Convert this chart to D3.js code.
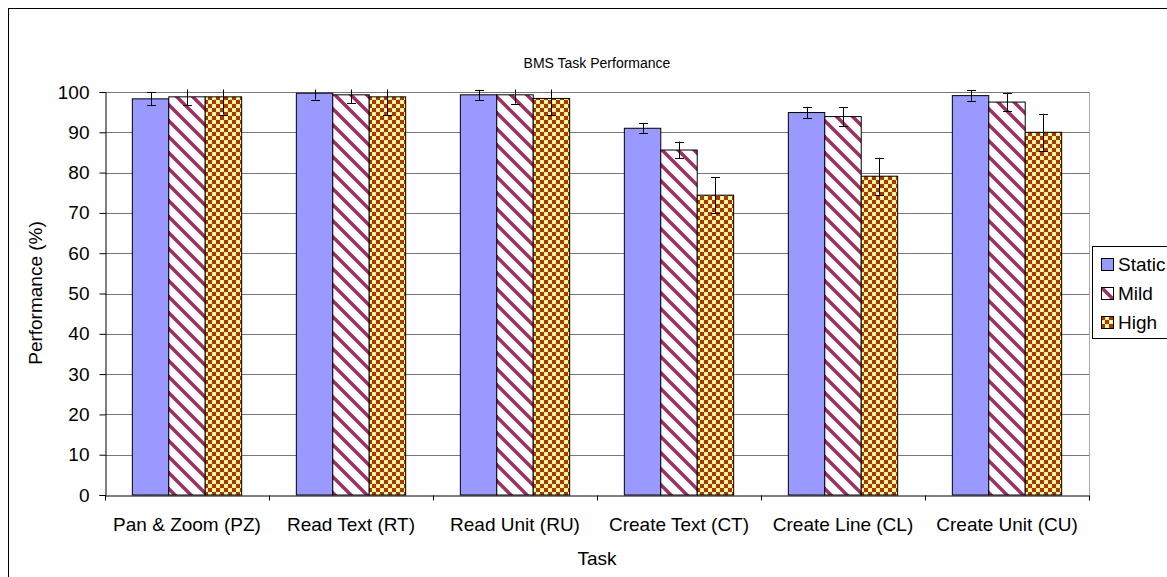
<!DOCTYPE html>
<html>
<head>
	<title>BMS Task Performance</title>
<style>
body {
  margin: 0;
  background: #fff;
}
svg text {
  font-family: "Liberation Sans", Arial, sans-serif;
  fill: #000;
}
</style>
</head>
  <body>
    <svg id="barChart"></svg>
    <script src="https://cdnjs.cloudflare.com/ajax/libs/d3/7.8.5/d3.min.js"></script>
    <script>
      // data
      var tasks = ['Pan & Zoom (PZ)', 'Read Text (RT)', 'Read Unit (RU)', 'Create Text (CT)', 'Create Line (CL)', 'Create Unit (CU)'];
      var seriesNames = ['Static', 'Mild', 'High'];
      var staticVals = [98.3, 99.7, 99.3, 91.0, 94.9, 99.1];
      var mildVals = [98.8, 99.3, 99.3, 85.6, 93.9, 97.5];
      var highVals = [98.8, 98.8, 98.4, 74.4, 79.1, 90.0];
      var staticErr = [1.6, 1.6, 1.3, 1.2, 1.4, 1.4];
      var mildErr = [2.1, 2.0, 2.2, 2.1, 2.3, 2.2];
      var highErr = [4.4, 4.4, 4.2, 4.4, 4.6, 4.6];
      var yTicks = [0, 10, 20, 30, 40, 50, 60, 70, 80, 90, 100];

      var width = 1167;
      var height = 577;
      // plot area edges (note: "top" is reserved on window)
      var pLeft = 105, pRight = 1089, pTop = 92, pBottom = 495;
      var labelFont = '19px';

      var allVals = [staticVals, mildVals, highVals];
      var allErr = [staticErr, mildErr, highErr];
      var data = [];
      tasks.forEach(function(t, i) {
        seriesNames.forEach(function(s, j) {
          data.push({ task: t, series: s, value: allVals[j][i], err: allErr[j][i] });
        });
      });

      var chart = d3.select('#barChart')
        .attr('width', width)
        .attr('height', height);

      var defs = chart.append('defs');

      var mild = defs.append('pattern')
        .attr('id', 'mildFill')
        .attr('patternUnits', 'userSpaceOnUse')
        .attr('width', 16)
        .attr('height', 16);
      mild.append('rect').attr('width', 16).attr('height', 16).attr('fill', '#fff');
      mild.append('path')
        .attr('d', 'M-4,-4 L20,20 M-4,12 L4,20 M12,-4 L20,4')
        .attr('stroke', '#993366')
        .attr('stroke-width', 3.6);

      var high = defs.append('pattern')
        .attr('id', 'highFill')
        .attr('patternUnits', 'userSpaceOnUse')
        .attr('width', 8)
        .attr('height', 8);
      high.append('rect').attr('width', 8).attr('height', 8).attr('fill', '#ffee88');
      high.append('rect').attr('x', 1).attr('y', 5).attr('width', 2).attr('height', 2).attr('fill', '#ffffd8');
      high.append('rect').attr('x', 5).attr('y', 1).attr('width', 2).attr('height', 2).attr('fill', '#ffffd8');
      high.append('rect').attr('x', 0).attr('y', 0).attr('width', 4).attr('height', 4).attr('fill', '#a33a00');
      high.append('rect').attr('x', 4).attr('y', 4).attr('width', 4).attr('height', 4).attr('fill', '#a33a00');

      defs.append('clipPath')
        .attr('id', 'plotClip')
        .append('rect')
        .attr('x', pLeft)
        .attr('y', pTop - 2.5)
        .attr('width', pRight - pLeft)
        .attr('height', pBottom - pTop + 2.5);

      var fills = { Static: '#9999ff', Mild: 'url(#mildFill)', High: 'url(#highFill)' };

      // outer chart border
      chart.append('rect')
        .attr('x', 8.5).attr('y', 8.5)
        .attr('width', 1300).attr('height', 700)
        .attr('fill', 'none')
        .attr('stroke', '#000')
        .attr('stroke-width', 1);

      var xScale = d3.scaleBand()
        .domain(tasks)
        .range([pLeft, pRight])
        .padding(0);

      var barW = xScale.bandwidth() / 4.5;
      var xInner = d3.scaleBand()
        .domain(seriesNames)
        .range([barW * 0.75, barW * 3.75])
        .padding(0);

      var yScale = d3.scaleLinear()
        .domain([0, 100])
        .range([pBottom, pTop]);

      // grid lines
      chart.append('g')
        .selectAll('line')
        .data(yTicks.filter(function(d) { return d > 0; }))
        .enter()
        .append('line')
        .attr('x1', pLeft).attr('x2', pRight)
        .attr('y1', function(d) { return Math.round(yScale(d)) + 0.5; })
        .attr('y2', function(d) { return Math.round(yScale(d)) + 0.5; })
        .attr('stroke', '#777')
        .attr('stroke-width', 1);

      chart.append('line')
        .attr('x1', pRight + 0.5).attr('x2', pRight + 0.5)
        .attr('y1', pTop).attr('y2', pBottom)
        .attr('stroke', '#aaa');

      // bars
      chart.append('g')
        .selectAll('rect')
        .data(data)
        .enter()
        .append('rect')
        .attr('x', function(d) { return xScale(d.task) + xInner(d.series); })
        .attr('y', function(d) { return yScale(d.value); })
        .attr('width', xInner.bandwidth())
        .attr('height', function(d) { return pBottom - yScale(d.value); })
        .attr('fill', function(d) { return fills[d.series]; })
        .attr('stroke', '#000')
        .attr('stroke-width', 1);

      // error bars
      var errG = chart.append('g').attr('clip-path', 'url(#plotClip)');
      var errs = errG.selectAll('g')
        .data(data)
        .enter()
        .append('g')
        .attr('transform', function(d) {
          return 'translate(' + (Math.round(xScale(d.task) + xInner(d.series) + xInner.bandwidth() / 2) + 0.5) + ',0)';
        });
      errs.append('line')
        .attr('y1', function(d) { return yScale(d.value + d.err); })
        .attr('y2', function(d) { return yScale(d.value - d.err); })
        .attr('stroke', '#000');
      errs.append('line')
        .attr('x1', -4.5).attr('x2', 4.5)
        .attr('y1', function(d) { return Math.round(yScale(d.value + d.err)) + 0.5; })
        .attr('y2', function(d) { return Math.round(yScale(d.value + d.err)) + 0.5; })
        .attr('stroke', '#000');
      errs.append('line')
        .attr('x1', -4.5).attr('x2', 4.5)
        .attr('y1', function(d) { return Math.round(yScale(d.value - d.err)) + 0.5; })
        .attr('y2', function(d) { return Math.round(yScale(d.value - d.err)) + 0.5; })
        .attr('stroke', '#000');

      // axes
      var yAxis = chart.append('g')
        .attr('transform', 'translate(' + (pLeft + 0.5) + ',0)')
        .call(d3.axisLeft(yScale).tickValues(yTicks).tickSize(6).tickPadding(10));
      var xAxis = chart.append('g')
        .attr('transform', 'translate(0,' + (pBottom + 0.5) + ')')
        .call(d3.axisBottom(xScale).tickSize(0).tickPadding(22));

      // category boundary ticks on the x axis
      xAxis.selectAll('.bound')
        .data(tasks.map(function(t) { return xScale(t); }).concat([pRight]))
        .enter()
        .append('line')
        .attr('class', 'bound')
        .attr('x1', function(d) { return Math.round(d) + 0.5; })
        .attr('x2', function(d) { return Math.round(d) + 0.5; })
        .attr('y1', 0).attr('y2', 5)
        .attr('stroke', '#000');

      chart.selectAll('.domain').attr('stroke', '#000');
      chart.selectAll('.tick line').attr('stroke', '#000');
      chart.selectAll('.tick text')
        .style('font-size', labelFont)
        .style('font-family', '"Liberation Sans", Arial, sans-serif');

      // titles
      chart.append('text')
        .attr('x', 597).attr('y', 68)
        .attr('text-anchor', 'middle')
        .style('font-size', '14px')
        .text('BMS Task Performance');
      chart.append('text')
        .attr('x', 597).attr('y', 565)
        .attr('text-anchor', 'middle')
        .style('font-size', labelFont)
        .text('Task');
      chart.append('text')
        .attr('transform', 'translate(42,' + 293 + ') rotate(-90)')
        .attr('text-anchor', 'middle')
        .style('font-size', labelFont)
        .text('Performance (%)');

      // legend
      var legend = chart.append('g');
      legend.append('rect')
        .attr('x', 1092.5).attr('y', 246.5)
        .attr('width', 100).attr('height', 92)
        .attr('fill', '#fff')
        .attr('stroke', '#000');
      var items = legend.selectAll('g.item')
        .data(seriesNames)
        .enter()
        .append('g')
        .attr('class', 'item')
        .attr('transform', function(d, i) { return 'translate(1101,' + (258 + i * 29) + ')'; });
      items.append('rect')
        .attr('x', 0.5).attr('y', 0.5)
        .attr('width', 12).attr('height', 12)
        .attr('fill', function(d) { return fills[d]; })
        .attr('stroke', '#000');
      items.append('text')
        .attr('x', 17).attr('y', 13)
        .style('font-size', labelFont)
        .text(function(d) { return d; });
    </script>
  </body>
</html>
